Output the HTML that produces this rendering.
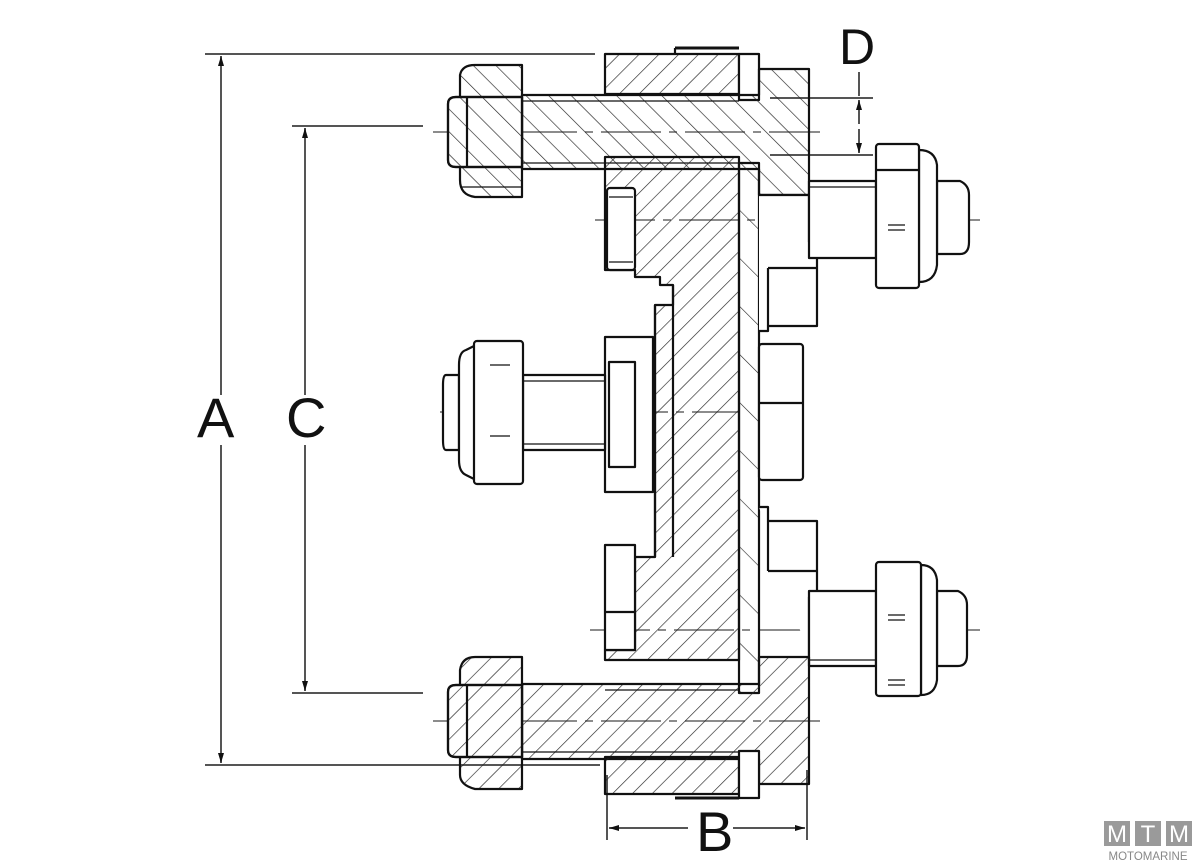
<!DOCTYPE html>
<html><head><meta charset="utf-8"><style>
html,body{margin:0;padding:0;background:#fff;}
svg{display:block}
</style></head><body>
<svg width="1200" height="864" viewBox="0 0 1200 864" xmlns="http://www.w3.org/2000/svg">
<defs>
<pattern id="h1" patternUnits="userSpaceOnUse" width="14" height="14" patternTransform="rotate(45)">
<line x1="0" y1="0" x2="0" y2="14" stroke="#222" stroke-width="1.3"/></pattern>
<pattern id="h2" patternUnits="userSpaceOnUse" width="16" height="16" patternTransform="rotate(-45)">
<line x1="0" y1="0" x2="0" y2="16" stroke="#222" stroke-width="1.3"/></pattern>
<pattern id="h3" patternUnits="userSpaceOnUse" width="34" height="34" patternTransform="rotate(-45)">
<line x1="0" y1="0" x2="0" y2="34" stroke="#222" stroke-width="1.2"/></pattern>
<marker id="ar" viewBox="0 0 10 10" refX="10" refY="5" markerWidth="10" markerHeight="14" orient="auto-start-reverse" markerUnits="userSpaceOnUse">
<path d="M0,2 L10,5 L0,8 Z" fill="#111"/></marker>
</defs>
<g stroke="#111" stroke-width="2.2" fill="none" stroke-linejoin="round">

<!-- dimension lines -->
<g stroke="#555" stroke-width="2">
<line x1="205" y1="54" x2="595" y2="54"/>
<line x1="205" y1="765" x2="600" y2="765"/>
<line x1="292" y1="126" x2="423" y2="126"/>
<line x1="292" y1="693" x2="423" y2="693"/>
<line x1="221" y1="56" x2="221" y2="395" marker-start="url(#ar)"/>
<line x1="221" y1="445" x2="221" y2="763" marker-end="url(#ar)"/>
<line x1="305" y1="128" x2="305" y2="395" marker-start="url(#ar)"/>
<line x1="305" y1="445" x2="305" y2="691" marker-end="url(#ar)"/>
<line x1="607" y1="775" x2="607" y2="840"/>
<line x1="807" y1="770" x2="807" y2="840"/>
<line x1="609" y1="828" x2="688" y2="828" marker-start="url(#ar)"/>
<line x1="733" y1="828" x2="805" y2="828" marker-end="url(#ar)"/>
<line x1="770" y1="98" x2="873" y2="98"/>
<line x1="770" y1="155" x2="873" y2="155"/>
<line x1="859" y1="72" x2="859" y2="96"/>
<line x1="859" y1="100" x2="859" y2="124" marker-start="url(#ar)"/>
<line x1="859" y1="129" x2="859" y2="153" marker-end="url(#ar)"/>
</g>

<!-- center lines -->
<g stroke="#666" stroke-width="1.5" stroke-dasharray="60,8,8,8">
<line x1="433" y1="132" x2="820" y2="132"/>
<line x1="433" y1="721" x2="820" y2="721"/>
<line x1="595" y1="220" x2="980" y2="220"/>
<line x1="590" y1="630" x2="980" y2="630"/>
<line x1="440" y1="412" x2="740" y2="412"/>
</g>

<!-- top flange -->
<rect x="605" y="54" width="134" height="40" fill="url(#h1)"/>
<line x1="675" y1="48" x2="739" y2="48" stroke-width="3"/>
<line x1="675" y1="48" x2="675" y2="54"/>
<rect x="739" y="54" width="20" height="46" fill="#fff"/>
<!-- top L -->
<path d="M522,95 L759,95 L759,69 L809,69 L809,195 L759,195 L759,169 L522,169 Z" fill="url(#h2)"/>
<line x1="522" y1="101" x2="739" y2="101" stroke-width="1.3"/>
<line x1="522" y1="163" x2="739" y2="163" stroke-width="1.3"/>
<!-- top bolt -->
<path d="M460,75 Q462,65 475,65 L522,65 L522,197 L475,197 Q460,195 460,180 Z" fill="url(#h2)"/>
<path d="M448,104 Q448,97 456,97 L522,97 L522,167 L456,167 Q448,167 448,160 Z" fill="#fff"/>
<path d="M448,104 Q448,97 456,97 L522,97 L522,167 L456,167 Q448,167 448,160 Z" fill="url(#h2)"/>
<line x1="467" y1="97" x2="467" y2="167"/>
<line x1="460" y1="187" x2="522" y2="187" stroke-width="1.3"/>

<!-- main bracket -->
<path d="M605,157 L739,157 L739,660 L605,660 L605,650 L635,650 L635,557 L655,557 L655,305 L673,305 L673,285 L660,285 L660,277 L635,277 L635,270 L605,270 Z" fill="url(#h1)"/>
<line x1="655" y1="305" x2="655" y2="557"/>
<line x1="673" y1="285" x2="673" y2="557"/>
<rect x="607" y="188" width="28" height="82" fill="#fff" rx="3"/>
<line x1="609" y1="197" x2="633" y2="197" stroke-width="1.3"/>
<line x1="609" y1="262" x2="633" y2="262" stroke-width="1.3"/>
<rect x="605" y="545" width="30" height="105" fill="#fff"/>
<line x1="605" y1="612" x2="635" y2="612"/>
<!-- vertical strip -->
<rect x="739" y="163" width="20" height="530" fill="url(#h3)"/>
<!-- middle washer -->
<rect x="605" y="337" width="48" height="155" fill="#fff"/>
<rect x="609" y="362" width="26" height="105"/>
<!-- middle bolt -->
<rect x="523" y="375" width="82" height="75" fill="#fff"/>
<line x1="523" y1="381" x2="605" y2="381" stroke-width="1.2"/>
<line x1="523" y1="444" x2="605" y2="444" stroke-width="1.2"/>
<path d="M446,375 L459,375 L459,450 L446,450 Q443,450 443,440 L443,385 Q443,375 446,375 Z" fill="#fff"/>
<path d="M466,350 L476,345 L476,480 L466,475 Q459,472 459,460 L459,365 Q459,352 466,350 Z" fill="#fff"/>
<rect x="474" y="341" width="49" height="143" rx="3" fill="#fff"/>
<line x1="490" y1="365" x2="510" y2="365" stroke-width="1.2"/>
<line x1="490" y1="436" x2="510" y2="436" stroke-width="1.2"/>
<!-- right hex nut middle -->
<rect x="759" y="344" width="44" height="136" rx="3" fill="#fff"/>
<line x1="759" y1="403" x2="803" y2="403"/>
<!-- upper right small blocks -->
<path d="M759,195 L809,195 L809,242 L817,242 L817,326 L768,326 L768,331 L759,331" fill="#fff"/>
<line x1="768" y1="268" x2="817" y2="268"/>
<line x1="768" y1="268" x2="768" y2="326"/>
<!-- lower right small blocks -->
<path d="M759,507 L768,507 L768,521 L817,521 L817,597 L809,597 L809,657" fill="#fff"/>
<line x1="768" y1="521" x2="768" y2="571"/>
<line x1="768" y1="571" x2="817" y2="571"/>

<!-- right bolts -->
<g fill="#fff">
<rect x="809" y="181" width="67" height="77"/>
<path d="M937,181 L960,181 Q969,185 969,195 L969,242 Q969,254 960,254 L937,254 Z"/>
<path d="M919,150 Q935,150 937,165 L937,265 Q935,282 919,282 Z"/>
<rect x="876" y="144" width="43" height="144" rx="3"/>
<line x1="876" y1="170" x2="919" y2="170"/>
<rect x="809" y="591" width="67" height="75"/>
<path d="M937,591 L958,591 Q967,595 967,605 L967,655 Q967,666 958,666 L937,666 Z"/>
<path d="M921,565 Q935,565 937,580 L937,680 Q935,695 921,695 Z"/>
<rect x="876" y="562" width="45" height="134" rx="3"/>
</g>
<g stroke-width="1.2">
<line x1="888" y1="225" x2="905" y2="225"/><line x1="888" y1="230" x2="905" y2="230"/>
<line x1="888" y1="615" x2="905" y2="615"/><line x1="888" y1="620" x2="905" y2="620"/>
<line x1="888" y1="680" x2="905" y2="680"/><line x1="888" y1="685" x2="905" y2="685"/>
<line x1="809" y1="187" x2="876" y2="187"/><line x1="809" y1="660" x2="876" y2="660"/>
</g>

<!-- bottom L -->
<path d="M522,684 L759,684 L759,657 L809,657 L809,784 L759,784 L759,759 L522,759 Z" fill="url(#h1)"/>
<line x1="605" y1="690" x2="739" y2="690" stroke-width="1.3"/>
<line x1="522" y1="752" x2="739" y2="752" stroke-width="1.3"/>
<rect x="605" y="757" width="134" height="37" fill="url(#h1)"/>
<line x1="675" y1="798" x2="739" y2="798" stroke-width="3"/>
<rect x="739" y="751" width="20" height="47" fill="#fff"/>
<!-- bottom bolt -->
<path d="M460,670 Q462,657 475,657 L522,657 L522,789 L475,789 Q460,785 460,775 Z" fill="url(#h1)"/>
<path d="M448,692 Q448,685 456,685 L522,685 L522,757 L456,757 Q448,757 448,750 Z" fill="#fff"/>
<path d="M448,692 Q448,685 456,685 L522,685 L522,757 L456,757 Q448,757 448,750 Z" fill="url(#h1)"/>
<line x1="467" y1="685" x2="467" y2="757"/>
</g>

<!-- labels -->
<g font-family="Liberation Sans, sans-serif" fill="#111">
<text x="197" y="437" font-size="56">A</text>
<text x="286" y="437" font-size="56">C</text>
<text x="696" y="851" font-size="56">B</text>
<text x="839" y="64" font-size="50">D</text>
</g>
<!-- logo -->
<g font-family="Liberation Sans, sans-serif">
<rect x="1104" y="821" width="26" height="25" fill="#9a9a9a"/>
<rect x="1135" y="821" width="26" height="25" fill="#9a9a9a"/>
<rect x="1166" y="821" width="26" height="25" fill="#9a9a9a"/>
<text x="1117" y="842" font-size="24" fill="#fff" text-anchor="middle">M</text>
<text x="1148" y="842" font-size="24" fill="#fff" text-anchor="middle">T</text>
<text x="1179" y="842" font-size="24" fill="#fff" text-anchor="middle">M</text>
<text x="1148" y="860" font-size="11.5" fill="#888" text-anchor="middle">MOTOMARINE</text>
</g>
</svg>
</body></html>
